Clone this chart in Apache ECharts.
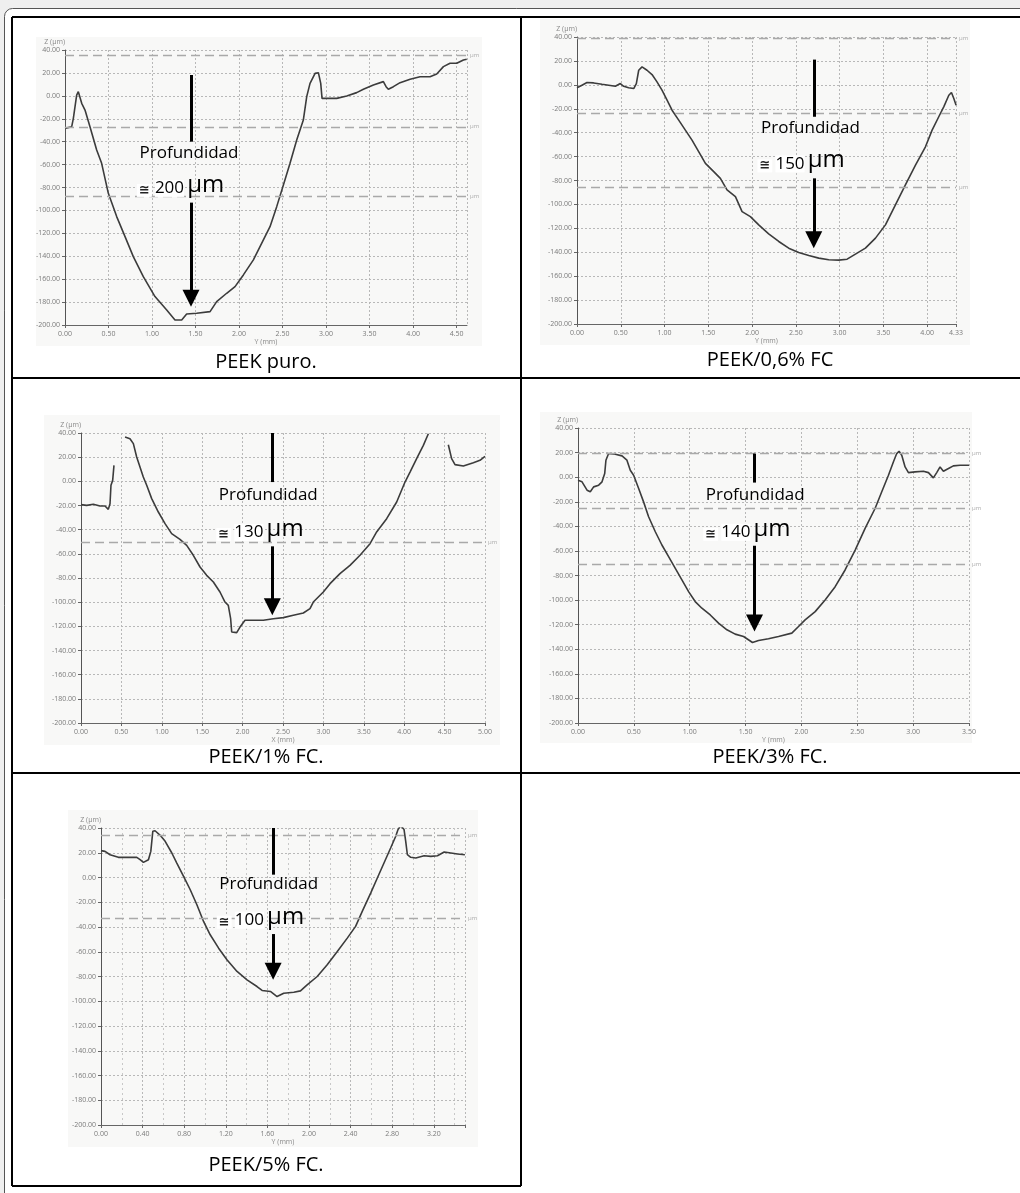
<!DOCTYPE html>
<html>
<head>
<meta charset="utf-8">
<script src="https://cdn.jsdelivr.net/npm/echarts@6/dist/echarts.min.js"></script>
<style>
  html, body { margin: 0; padding: 0; background: #efefef; }
  #chart { width: 1020px; height: 1193px; }
</style>
</head>
<body>
<div id="chart"></div>
<script>
// Profilometer traces across each wear track: [position (mm), height Z (µm)]
const profilePuro = [[0,-28.4],[0.077,-26.9],[0.096,-19.6],[0.134,0.7],[0.153,3.6],[0.192,-6.5],[0.230,-12.4],[0.287,-26.9],[0.364,-47.3],[0.421,-58.9],[0.498,-85.1],[0.594,-105.4],[0.690,-122.9],[0.785,-140.3],[0.900,-157.8],[1.034,-175.2],[1.169,-186.9],[1.264,-195.6],[1.341,-195.6],[1.398,-190.4],[1.513,-189.8],[1.667,-188.3],[1.743,-179.6],[1.858,-172.3],[1.954,-166.5],[2.050,-156.3],[2.165,-143.2],[2.280,-125.8],[2.356,-114.2],[2.433,-96.7],[2.510,-77.8],[2.586,-58.9],[2.663,-38.5],[2.739,-21.1],[2.778,-0.7],[2.816,10.9],[2.874,19.6],[2.912,20.2],[2.939,10.9],[2.954,-2.2],[3.046,-2.2],[3.123,-2.2],[3.238,-0.1],[3.352,2.8],[3.429,5.7],[3.544,9.5],[3.659,12.4],[3.690,8.0],[3.716,5.7],[3.774,8.0],[3.851,11.5],[3.966,14.4],[4.080,16.7],[4.195,16.7],[4.272,19.1],[4.349,25.5],[4.425,28.4],[4.502,28.4],[4.579,31.3],[4.617,31.9]];

const profile06 = [[0,-2.5],[0.057,-0.3],[0.114,1.9],[0.190,1.6],[0.286,0.5],[0.362,-0.3],[0.438,-1.2],[0.495,1.1],[0.533,-1.2],[0.590,-2.5],[0.648,-3.1],[0.678,1.1],[0.705,12.2],[0.743,15.0],[0.800,12.2],[0.857,8.6],[0.914,2.5],[0.971,-4.5],[1.029,-12.8],[1.086,-21.2],[1.162,-29.5],[1.238,-37.9],[1.314,-46.2],[1.390,-55.9],[1.467,-65.7],[1.562,-72.6],[1.638,-78.2],[1.714,-87.9],[1.810,-93.5],[1.886,-106.0],[1.981,-110.2],[2.076,-117.1],[2.190,-124.6],[2.305,-131.0],[2.419,-136.6],[2.533,-140.2],[2.648,-142.7],[2.762,-144.9],[2.876,-146.3],[2.990,-146.6],[3.086,-145.8],[3.181,-141.6],[3.295,-136.6],[3.410,-128.2],[3.524,-117.1],[3.638,-100.4],[3.752,-83.7],[3.867,-67.1],[3.981,-51.8],[4.057,-37.9],[4.133,-26.7],[4.190,-18.4],[4.248,-8.7],[4.278,-6.4],[4.305,-11.4],[4.331,-17.0]];

const profile1 = [[0,-19.3],[0.070,-19.9],[0.153,-19.0],[0.235,-20.4],[0.297,-20.4],[0.338,-23.2],[0.359,-18.5],[0.371,-3.3],[0.392,0.8],[0.408,13.2],[0.47,null],[0.545,36.7],[0.606,35.3],[0.648,31.2],[0.689,20.1],[0.730,11.9],[0.771,3.6],[0.813,-3.3],[0.875,-14.3],[0.957,-25.4],[1.040,-35.0],[1.122,-43.3],[1.225,-48.0],[1.308,-53.0],[1.390,-61.2],[1.473,-70.9],[1.555,-77.8],[1.638,-83.3],[1.720,-91.6],[1.782,-99.9],[1.823,-102.6],[1.852,-113.7],[1.865,-124.7],[1.927,-125.2],[1.968,-120.6],[2.030,-115.0],[2.133,-115.0],[2.257,-115.0],[2.380,-113.7],[2.504,-112.8],[2.628,-110.9],[2.752,-109.0],[2.834,-105.4],[2.875,-99.9],[2.999,-91.6],[3.082,-84.7],[3.205,-76.4],[3.329,-69.5],[3.453,-61.2],[3.577,-51.6],[3.659,-41.9],[3.783,-30.9],[3.907,-17.1],[4.010,-0.6],[4.072,7.7],[4.154,18.8],[4.237,29.8],[4.299,39.4],[4.42,null],[4.546,30.3],[4.587,18.8],[4.629,13.8],[4.732,12.7],[4.856,15.4],[4.938,17.4],[5.0,20.7]];

const profile3 = [[0,-2.5],[0.036,-3.8],[0.081,-10.6],[0.110,-11.9],[0.140,-7.9],[0.185,-6.5],[0.215,-3.8],[0.239,2.9],[0.250,13.8],[0.274,19.2],[0.334,18.6],[0.394,17.3],[0.438,13.8],[0.468,5.6],[0.498,1.6],[0.543,-9.2],[0.587,-20.1],[0.632,-32.2],[0.692,-44.4],[0.751,-55.2],[0.811,-64.7],[0.871,-74.2],[0.930,-83.6],[0.990,-93.1],[1.049,-101.2],[1.109,-106.6],[1.184,-112.1],[1.258,-118.8],[1.333,-124.2],[1.407,-127.7],[1.482,-129.6],[1.562,-134.5],[1.616,-132.9],[1.705,-131.5],[1.795,-129.6],[1.914,-126.9],[1.974,-121.5],[2.033,-116.1],[2.123,-109.4],[2.212,-99.9],[2.302,-89.1],[2.391,-75.5],[2.481,-59.3],[2.570,-41.7],[2.659,-25.5],[2.719,-11.9],[2.779,1.6],[2.823,12.4],[2.853,19.2],[2.874,21.1],[2.898,17.8],[2.928,8.3],[2.958,3.7],[3.017,4.3],[3.092,4.8],[3.137,3.7],[3.181,-0.6],[3.211,3.7],[3.241,8.3],[3.271,4.8],[3.316,7.0],[3.360,9.2],[3.420,9.7],[3.500,9.7]];

const profile5 = [[0,21.7],[0.039,21.1],[0.087,18.4],[0.167,16.3],[0.247,16.3],[0.344,16.3],[0.376,14.4],[0.408,12.2],[0.456,14.4],[0.479,21.1],[0.498,37.3],[0.520,37.8],[0.569,34.1],[0.617,29.2],[0.681,19.8],[0.729,11.7],[0.794,0.9],[0.858,-9.9],[0.922,-22.0],[0.986,-35.5],[1.050,-46.3],[1.131,-57.1],[1.211,-66.5],[1.308,-75.9],[1.404,-82.7],[1.500,-88.1],[1.549,-91.3],[1.629,-92.1],[1.693,-96.2],[1.757,-93.5],[1.854,-92.7],[1.918,-91.6],[1.982,-86.7],[2.079,-80.0],[2.175,-70.5],[2.272,-59.8],[2.368,-49.0],[2.448,-39.5],[2.512,-27.4],[2.593,-12.6],[2.657,-0.4],[2.721,11.7],[2.785,23.8],[2.834,33.3],[2.856,38.7],[2.882,42.0],[2.914,38.7],[2.930,29.2],[2.946,18.4],[2.978,16.3],[3.027,15.7],[3.107,17.6],[3.171,17.1],[3.235,17.6],[3.300,20.6],[3.364,19.8],[3.428,19.0],[3.499,18.4]];

const profiles = [profilePuro, profile06, profile1, profile3, profile5];
const captions = ['PEEK puro.', 'PEEK/0,6% FC', 'PEEK/1% FC.', 'PEEK/3% FC.', 'PEEK/5% FC.'];
const depthsUm = [200, 150, 130, 140, 100];

// Axis extents
const xMax = [4.62, 4.33, 5.0, 3.5, 3.5];
const xStep = [0.5, 0.5, 0.5, 0.5, 0.4];
const xNames = ['Y (mm)', 'Y (mm)', 'X (mm)', 'Y (mm)', 'Y (mm)'];
const zMin = -200, zMax = 40, zStep = 20;

// Horizontal cursor levels of the profilometer (µm)
const cursorLevels = [[35.6, -27.0, -87.4], [39.0, -23.4, -85.7], [-50.2], [19.7, -25.5, -70.9], [34.1, -32.8]];

// Depth arrow: x (mm), upper stem [from, to], lower arrow [from, tip] in µm
const arrowX = [1.448, 2.705, 2.368, 1.580, 1.655];
const arrowStem = [[18.2, -40.0], [21.1, -26.7], [40.0, -0.6], [19.2, -4.4], [40.0, 2.3]];
const arrowShaft = [[-93.2, -184.0], [-78.2, -136.6], [-53.8, -110.9], [-55.8, -125.6], [-45.7, -82.7]];
// Text anchors [x (mm), z (µm)] for "Profundidad" and the depth value
const titleAnchor = [[1.425, -49.9], [2.667, -36.5], [2.318, -11.6], [1.586, -14.7], [1.613, -5.3]];
const depthAnchor = [[1.328, -76.0], [2.560, -61.5], [2.215, -37.8], [1.512, -40.4], [1.533, -30.1]];

// Page layout (pixels)
const plotBoxes = [
  { left: 65, top: 50, width: 402, height: 275 },
  { left: 577, top: 37, width: 379, height: 287 },
  { left: 81, top: 433, width: 404, height: 290 },
  { left: 578, top: 428, width: 391, height: 295 },
  { left: 101, top: 828, width: 364, height: 297 }
];
const panelBacks = [[36, 37, 446, 309], [540, 19, 430, 326], [44, 415, 456, 330], [540, 412, 432, 331], [68, 810, 410, 337]];
const captionPos = [[266, 362], [770, 360], [266, 757], [770, 757], [266, 1165]];
const showMaxX = [false, true, true, true, false];

const chart = echarts.init(document.getElementById('chart'), null, { renderer: 'canvas' });

const grids = [], xAxes = [], yAxes = [], series = [], graphics = [];

const headPx = 17; // arrowhead length in px

profiles.forEach((data, i) => {
  const box = plotBoxes[i];
  grids.push({ left: box.left, top: box.top, width: box.width, height: box.height, containLabel: false });

  xAxes.push({
    gridIndex: i, type: 'value', min: 0, max: xMax[i], interval: xStep[i],
    name: xNames[i], nameLocation: 'middle', nameGap: 13,
    nameTextStyle: { fontSize: 7, color: '#8a8a8a' },
    axisLine: { show: true, onZero: false, lineStyle: { color: '#666', width: 1 } },
    axisTick: { show: true, length: 3, lineStyle: { color: '#666' } },
    axisLabel: { fontSize: 7, color: '#7a7a7a', margin: 5, showMaxLabel: showMaxX[i], formatter: v => v.toFixed(2) },
    splitLine: { show: true, lineStyle: { color: '#b8b8b8', type: [2, 2], width: 1 } },
    minorTick: { show: i === 4, splitNumber: 2, length: 0 },
    minorSplitLine: { show: i === 4, lineStyle: { color: '#c8c8c8', type: [2, 3], width: 1 } }
  });

  yAxes.push({
    gridIndex: i, type: 'value', min: zMin, max: zMax, interval: zStep,
    name: 'Z (µm)', nameLocation: 'end', nameGap: 5,
    nameTextStyle: { fontSize: 7, color: '#8a8a8a', align: 'right' },
    axisLine: { show: true, onZero: false, lineStyle: { color: '#555', width: 1 } },
    axisTick: { show: true, length: 3, lineStyle: { color: '#666' } },
    axisLabel: { fontSize: 7, color: '#7a7a7a', margin: 5, formatter: v => v.toFixed(2) },
    splitLine: { show: true, lineStyle: { color: '#b8b8b8', type: [2, 2], width: 1 } }
  });

  // offset so that the triangle tip (not its centre) lands on the tip value
  const zPerPx = (zMax - zMin) / box.height;
  const headCentre = arrowShaft[i][1] + (headPx / 2) * zPerPx;

  series.push({
    type: 'line', xAxisIndex: i, yAxisIndex: i, data: data,
    showSymbol: false, symbol: 'none', connectNulls: false, clip: true,
    lineStyle: { color: '#3c3c3c', width: 1.6 }, animation: false, z: 3,
    markLine: {
      silent: true, symbol: 'none', animation: false,
      data: cursorLevels[i].map(v => ({
        yAxis: v,
        lineStyle: { color: '#a9a9a9', type: [9, 5], width: 1.3 },
        label: { show: true, position: 'end', formatter: 'µm', fontSize: 6, color: '#aaa', distance: 3 }
      }))
    }
  });

  series.push({
    type: 'line', xAxisIndex: i, yAxisIndex: i, data: [], z: 6, animation: false,
    markLine: {
      silent: true, animation: false, symbol: ['none', 'triangle'], symbolSize: [17, headPx],
      lineStyle: { color: '#000', width: 3, type: 'solid' },
      label: { show: false },
      data: [
        [{ coord: [arrowX[i], arrowStem[i][0]], symbol: 'none' }, { coord: [arrowX[i], arrowStem[i][1]], symbol: 'none' }],
        [{ coord: [arrowX[i], arrowShaft[i][0]] }, { coord: [arrowX[i], headCentre] }]
      ]
    },
    markPoint: {
      silent: true, animation: false, symbol: 'circle', symbolSize: 0,
      data: [
        {
          coord: titleAnchor[i],
          label: { show: true, position: 'inside', formatter: 'Profundidad', color: '#000', fontSize: 17, fontFamily: 'Open Sans' }
        },
        {
          coord: depthAnchor[i],
          label: {
            show: true, position: 'inside', formatter: '{s|≅} {n|' + depthsUm[i] + '} {u|µm}',
            rich: {
              s: { fontSize: 13, fontWeight: 'bold', color: '#222', fontFamily: 'DejaVu Sans', verticalAlign: 'bottom', lineHeight: 28, backgroundColor: '#fff', padding: [0, 2, 0, 2] },
              n: { fontSize: 17, color: '#000', fontFamily: 'Open Sans', verticalAlign: 'bottom', lineHeight: 28, backgroundColor: '#fff' },
              u: { fontSize: 24, color: '#000', fontFamily: 'Open Sans', verticalAlign: 'bottom', lineHeight: 28 }
            }
          }
        }
      ]
    }
  });

  const b = panelBacks[i];
  graphics.push({ type: 'rect', z: -5, shape: { x: b[0], y: b[1], width: b[2], height: b[3] }, style: { fill: '#f8f8f7' } });

  graphics.push({
    type: 'text', z: 20, x: captionPos[i][0], y: captionPos[i][1],
    style: { text: captions[i], fill: '#000', font: '20px "Open Sans"', textAlign: 'center', textVerticalAlign: 'middle' }
  });
});

// outer rounded frame and table rules
graphics.unshift({ type: 'rect', z: -10, shape: { x: 4.5, y: 8.5, width: 1100, height: 1300, r: 8 }, style: { fill: '#fff', stroke: '#555', lineWidth: 1 } });
const rules = [[12, 17, 1020, 17], [12, 17, 12, 1186], [521, 17, 521, 1186], [12, 378, 1020, 378], [12, 773, 1020, 773], [12, 1186, 521, 1186]];
rules.forEach(r => graphics.push({ type: 'line', z: 20, shape: { x1: r[0], y1: r[1], x2: r[2], y2: r[3] }, style: { stroke: '#000', lineWidth: 2 } }));

chart.setOption({
  animation: false,
  backgroundColor: '#efefef',
  textStyle: { fontFamily: 'Open Sans' },
  grid: grids,
  xAxis: xAxes,
  yAxis: yAxes,
  series: series,
  graphic: { elements: graphics }
});
</script>
</body>
</html>
